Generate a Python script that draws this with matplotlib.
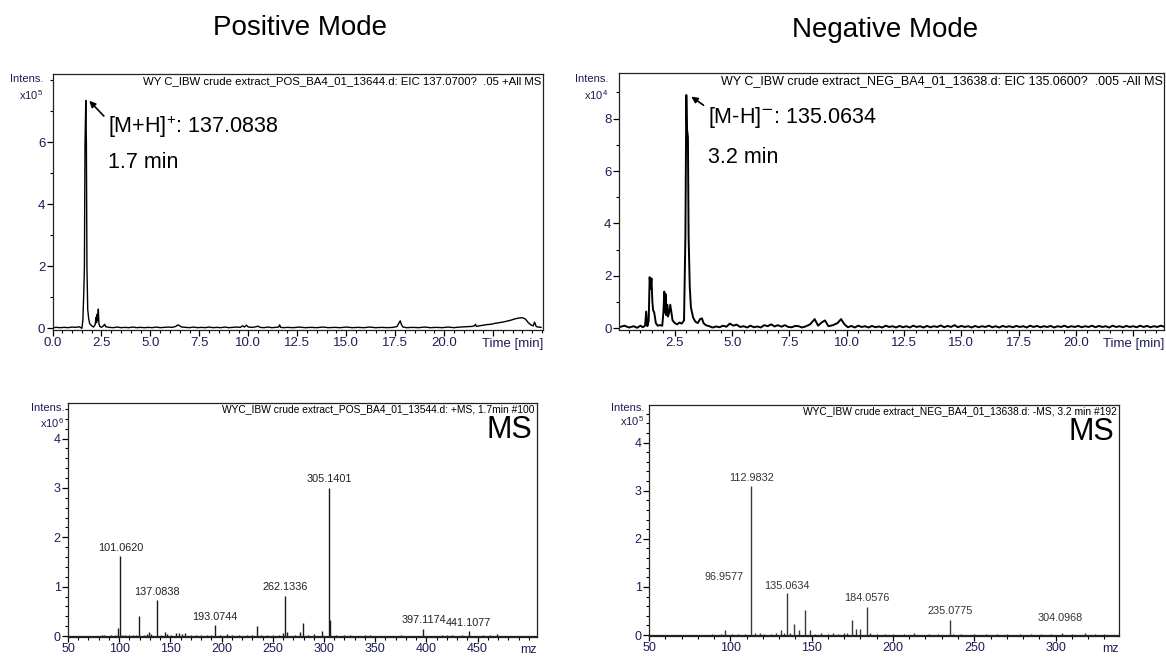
import matplotlib
matplotlib.use("Agg")
import matplotlib.pyplot as plt
from matplotlib.ticker import MultipleLocator, FixedLocator, FixedFormatter

plt.rcParams['font.family'] = ['Liberation Sans', 'DejaVu Sans']
plt.rcParams['mathtext.fontset'] = 'custom'
plt.rcParams['mathtext.rm'] = 'Liberation Sans'
plt.rcParams['mathtext.it'] = 'Liberation Sans'

# EIC, positive mode: (time [min], intensity x1e5)
pos_eic = [
    (0.0, 0.02), (0.2, 0.03), (0.4, 0.02), (0.6, 0.03), (0.8, 0.02), (1.0, 0.04),
    (1.2, 0.03), (1.35, 0.05), (1.45, 0.02), (1.5, 0.0), (1.55, 0.25), (1.6, 1.2),
    (1.63, 2.0), (1.66, 5.9), (1.7, 7.35), (1.73, 6.0), (1.76, 1.9), (1.8, 0.6),
    (1.85, 0.3), (1.9, 0.15), (2.0, 0.08), (2.1, 0.04), (2.18, 0.12), (2.22, 0.35),
    (2.25, 0.18), (2.28, 0.45), (2.31, 0.25), (2.34, 0.62), (2.37, 0.15), (2.42, 0.06),
    (2.5, 0.03), (2.6, 0.08), (2.66, 0.13), (2.72, 0.05), (2.9, 0.03), (3.1, 0.02),
    (3.3, 0.04), (3.5, 0.02), (3.7, 0.03), (3.9, 0.02), (4.1, 0.04), (4.3, 0.02),
    (4.5, 0.03), (4.7, 0.02), (4.9, 0.03), (5.1, 0.02), (5.3, 0.04), (5.5, 0.02),
    (5.7, 0.03), (5.9, 0.04), (6.1, 0.03), (6.3, 0.06), (6.4, 0.11), (6.5, 0.08),
    (6.6, 0.04), (6.8, 0.03), (7.0, 0.02), (7.2, 0.04), (7.4, 0.02), (7.6, 0.03),
    (7.8, 0.02), (8.0, 0.04), (8.2, 0.02), (8.4, 0.03), (8.6, 0.02), (8.8, 0.04),
    (9.0, 0.02), (9.2, 0.03), (9.4, 0.04), (9.6, 0.03), (9.7, 0.08), (9.8, 0.04),
    (9.9, 0.1), (10.0, 0.04), (10.2, 0.03), (10.4, 0.05), (10.5, 0.07), (10.6, 0.03),
    (10.8, 0.02), (11.0, 0.04), (11.2, 0.02), (11.4, 0.03), (11.55, 0.04), (11.6, 0.11),
    (11.65, 0.03), (11.8, 0.02), (12.0, 0.03), (12.3, 0.02), (12.6, 0.04), (12.9, 0.02),
    (13.2, 0.03), (13.5, 0.02), (13.8, 0.04), (14.1, 0.02), (14.4, 0.03), (14.7, 0.02),
    (15.0, 0.04), (15.3, 0.02), (15.6, 0.03), (15.9, 0.02), (16.2, 0.04), (16.5, 0.02),
    (16.8, 0.03), (17.1, 0.02), (17.4, 0.03), (17.6, 0.06), (17.7, 0.18), (17.76, 0.24),
    (17.82, 0.12), (17.9, 0.04), (18.1, 0.02), (18.4, 0.03), (18.7, 0.02), (19.0, 0.04),
    (19.3, 0.02), (19.6, 0.03), (19.9, 0.02), (20.2, 0.04), (20.5, 0.02), (20.8, 0.04),
    (21.1, 0.05), (21.4, 0.06), (21.55, 0.08), (21.6, 0.13), (21.65, 0.06), (21.8, 0.08),
    (22.0, 0.1), (22.2, 0.12), (22.4, 0.13), (22.6, 0.16), (22.8, 0.18), (23.0, 0.2),
    (23.2, 0.23), (23.4, 0.26), (23.6, 0.3), (23.8, 0.33), (24.0, 0.34), (24.15, 0.3),
    (24.3, 0.18), (24.45, 0.1), (24.55, 0.08), (24.62, 0.2), (24.7, 0.06), (24.8, 0.04),
    (24.95, 0.03),
]

# EIC, negative mode: (time [min], intensity x1e4)
neg_eic = [
    (0.1, 0.05), (0.3, 0.1), (0.5, 0.03), (0.7, 0.08), (0.85, 0.02), (1.0, 0.1),
    (1.1, 0.04), (1.2, 0.1), (1.25, 0.64), (1.3, 0.08), (1.36, 0.3), (1.4, 1.95),
    (1.44, 1.5), (1.48, 1.9), (1.52, 1.0), (1.55, 0.7), (1.6, 0.6), (1.67, 0.2),
    (1.75, 0.1), (1.85, 0.12), (1.95, 0.1), (2.0, 0.6), (2.04, 1.4), (2.07, 0.6),
    (2.1, 1.3), (2.13, 0.5), (2.17, 0.9), (2.2, 0.45), (2.25, 0.6), (2.3, 0.9),
    (2.35, 0.6), (2.4, 0.3), (2.5, 0.2), (2.6, 0.15), (2.7, 0.22), (2.8, 0.18),
    (2.9, 0.3), (2.96, 3.5), (3.0, 8.9), (3.03, 7.6), (3.07, 7.3), (3.1, 3.5),
    (3.15, 1.6), (3.2, 0.8), (3.3, 0.4), (3.4, 0.25), (3.5, 0.2), (3.6, 0.35),
    (3.68, 0.38), (3.75, 0.2), (3.85, 0.12), (4.0, 0.08), (4.15, 0.03), (4.3, 0.07),
    (4.45, 0.04), (4.6, 0.1), (4.75, 0.06), (4.9, 0.18), (5.05, 0.1), (5.2, 0.14),
    (5.35, 0.05), (5.5, 0.08), (5.65, 0.03), (5.8, 0.1), (5.95, 0.04), (6.1, 0.07),
    (6.25, 0.03), (6.4, 0.12), (6.55, 0.08), (6.7, 0.15), (6.85, 0.07), (7.0, 0.12),
    (7.15, 0.06), (7.3, 0.12), (7.45, 0.05), (7.6, 0.04), (7.75, 0.09), (7.9, 0.08),
    (8.05, 0.03), (8.2, 0.07), (8.4, 0.15), (8.6, 0.35), (8.75, 0.1), (8.9, 0.22),
    (9.05, 0.3), (9.2, 0.08), (9.4, 0.12), (9.6, 0.2), (9.75, 0.35), (9.9, 0.15),
    (10.05, 0.04), (10.2, 0.09), (10.35, 0.03), (10.5, 0.1), (10.65, 0.05), (10.8, 0.08),
    (10.95, 0.03), (11.1, 0.09), (11.25, 0.04), (11.4, 0.07), (11.55, 0.03), (11.7, 0.1),
    (11.85, 0.05), (12.0, 0.08), (12.15, 0.03), (12.3, 0.09), (12.45, 0.04), (12.6, 0.08),
    (12.75, 0.03), (12.9, 0.1), (13.05, 0.05), (13.2, 0.08), (13.35, 0.03), (13.5, 0.09),
    (13.65, 0.04), (13.8, 0.08), (13.95, 0.05), (14.1, 0.11), (14.25, 0.04), (14.4, 0.09),
    (14.55, 0.05), (14.7, 0.12), (14.85, 0.04), (15.0, 0.09), (15.15, 0.05), (15.3, 0.08),
    (15.45, 0.03), (15.6, 0.09), (15.75, 0.04), (15.9, 0.08), (16.05, 0.05), (16.2, 0.1),
    (16.35, 0.04), (16.5, 0.08), (16.65, 0.03), (16.8, 0.09), (16.95, 0.05), (17.1, 0.08),
    (17.25, 0.04), (17.4, 0.09), (17.55, 0.05), (17.7, 0.08), (17.85, 0.03), (18.0, 0.1),
    (18.15, 0.05), (18.3, 0.09), (18.45, 0.04), (18.6, 0.08), (18.75, 0.05), (18.9, 0.09),
    (19.05, 0.03), (19.2, 0.08), (19.35, 0.05), (19.5, 0.1), (19.65, 0.04), (19.8, 0.08),
    (19.95, 0.05), (20.1, 0.09), (20.25, 0.04), (20.4, 0.08), (20.55, 0.05), (20.7, 0.1),
    (20.85, 0.04), (21.0, 0.09), (21.15, 0.05), (21.3, 0.08), (21.45, 0.03), (21.6, 0.1),
    (21.75, 0.05), (21.9, 0.08), (22.05, 0.04), (22.2, 0.09), (22.35, 0.05), (22.5, 0.08),
    (22.65, 0.04), (22.8, 0.1), (22.95, 0.05), (23.1, 0.09), (23.25, 0.04), (23.4, 0.08),
    (23.55, 0.05), (23.7, 0.1), (23.85, 0.06),
]

# MS spectrum, positive mode (m/z, intensity x1e6)
pos_mz = [83.5, 85.0, 92.0, 96.0, 98.5, 101.06, 103.0, 106.0, 110.0, 113.0, 116.0,
          119.07, 124.0, 127.0, 129.0, 131.0, 137.08, 141.0, 145.0, 147.0, 151.0,
          155.0, 158.0, 161.0, 164.0, 170.0, 175.0, 180.0, 186.0, 190.0, 193.07,
          198.0, 205.0, 210.0, 217.0, 225.0, 230.0, 235.0, 238.0, 244.0, 250.0,
          256.0, 260.0, 262.13, 264.0, 272.0, 277.0, 279.0, 284.0, 290.0, 298.0,
          305.14, 306.14, 312.0, 320.0, 325.0, 340.0, 345.0, 375.0, 397.12, 415.0,
          420.0, 425.0, 435.0, 441.11, 455.0, 462.0, 469.0]
pos_int = [0.03, 0.03, 0.02, 0.03, 0.17, 1.62, 0.03, 0.02, 0.03, 0.02, 0.03,
           0.40, 0.03, 0.05, 0.08, 0.04, 0.72, 0.03, 0.08, 0.05, 0.03,
           0.06, 0.07, 0.05, 0.06, 0.02, 0.02, 0.03, 0.02, 0.03, 0.22,
           0.02, 0.04, 0.02, 0.02, 0.02, 0.03, 0.21, 0.02, 0.03, 0.02,
           0.02, 0.06, 0.82, 0.08, 0.03, 0.09, 0.27, 0.03, 0.05, 0.10,
           3.00, 0.32, 0.03, 0.03, 0.02, 0.02, 0.02, 0.02, 0.15, 0.03,
           0.03, 0.02, 0.03, 0.10, 0.02, 0.02, 0.04]
pos_labels = ['101.0620', '137.0838', '193.0744', '262.1336', '305.1401', '397.1174', '441.1077']
pos_label_mz = [101.06, 137.08, 193.07, 262.13, 305.14, 397.12, 441.11]

# MS spectrum, negative mode (m/z, intensity x1e5)
neg_mz = [89.0, 94.0, 97.0, 101.0, 105.0, 109.0, 112.98, 115.0, 118.0, 121.0, 125.0,
          128.0, 131.0, 133.0, 135.06, 137.0, 139.0, 142.0, 146.0, 149.0, 152.0, 156.0,
          160.0, 163.0, 166.0, 170.0, 172.0, 174.9, 177.0, 180.0, 184.06, 186.0, 190.0,
          195.0, 200.0, 207.0, 213.0, 222.0, 228.0, 235.08, 237.0, 242.0, 250.0, 257.0,
          264.0, 270.0, 278.0, 285.0, 291.0, 297.0, 304.1, 310.0, 318.0, 324.0, 330.0]
neg_int = [0.02, 0.02, 0.11, 0.03, 0.02, 0.03, 3.10, 0.04, 0.05, 0.03, 0.02,
           0.04, 0.11, 0.04, 0.88, 0.05, 0.22, 0.10, 0.51, 0.11, 0.03, 0.04,
           0.03, 0.04, 0.03, 0.04, 0.05, 0.32, 0.12, 0.12, 0.59, 0.04, 0.03,
           0.03, 0.03, 0.02, 0.05, 0.02, 0.03, 0.32, 0.03, 0.02, 0.03, 0.02,
           0.02, 0.03, 0.02, 0.03, 0.02, 0.03, 0.04, 0.03, 0.05, 0.02, 0.03]
neg_labels = ['112.9832', '96.9577', '135.0634', '184.0576', '235.0775', '304.0968']
neg_label_x = [112.98, 96.0, 135.06, 184.06, 235.08, 302.7]
neg_label_y = [3.16, 1.10, 0.92, 0.66, 0.40, 0.24]

TICK_COLOR = '#1c1c55'


def style_axes(ax, labelsize=9.5):
    for sp in ax.spines.values():
        sp.set_linewidth(0.9)
        sp.set_color('#222222')
    ax.tick_params(axis='both', which='major', direction='out', length=4,
                   width=0.9, labelsize=labelsize, labelcolor=TICK_COLOR, pad=1.2)
    ax.tick_params(axis='both', which='minor', direction='out', length=2.5, width=0.8)


def plot_eic(ax, data, xmax, xmin, ymax, ymin, yticks, title, title_size, lw, label_ticks):
    t = [p[0] for p in data]
    y = [p[1] for p in data]
    ax.plot(t, y, color='black', lw=lw)
    ax.set_xlim(xmin, xmax)
    ax.set_ylim(ymin, ymax)
    style_axes(ax)
    ax.xaxis.set_major_locator(FixedLocator(label_ticks + [22.5]))
    ax.xaxis.set_major_formatter(FixedFormatter(['%.1f' % v for v in label_ticks] + ['']))
    ax.xaxis.set_minor_locator(MultipleLocator(0.5))
    ax.yaxis.set_major_locator(FixedLocator(yticks))
    ax.yaxis.set_minor_locator(MultipleLocator(1))
    ax.text(1.0, -0.032, 'Time [min]', transform=ax.transAxes, ha='right', va='top',
            fontsize=9.5, color=TICK_COLOR)
    ax.text(0.997, 0.99, title, transform=ax.transAxes, ha='right', va='top',
            fontsize=title_size, color='black')


def plot_ms(ax, mz, inten, xmin, xmax, ymax, title, color, ticks):
    ax.vlines(mz, 0, inten, color=color, lw=1.0)
    ax.axhline(0, color='#222222', lw=0.9)
    ax.set_xlim(xmin, xmax)
    ax.set_ylim(-0.02, ymax)
    style_axes(ax, labelsize=9)
    ax.tick_params(axis='x', which='major', length=3.5, pad=0.8)
    ax.tick_params(axis='x', which='minor', length=2.2)
    ax.xaxis.set_major_locator(FixedLocator(ticks))
    ax.xaxis.set_minor_locator(MultipleLocator(10))
    ax.yaxis.set_major_locator(MultipleLocator(1))
    ax.yaxis.set_minor_locator(MultipleLocator(0.2))
    ax.text(1.0, -0.03, 'mz', transform=ax.transAxes, ha='right', va='top',
            fontsize=9, color=TICK_COLOR)
    ax.text(0.995, 0.995, title, transform=ax.transAxes, ha='right', va='top',
            fontsize=7.4, color='black')
    ax.text(0.99, 0.95, 'MS', transform=ax.transAxes, ha='right', va='top',
            fontsize=22, color='black', family=['Liberation Sans Narrow', 'Liberation Sans'])


def main():
    fig = plt.figure(figsize=(11.66, 6.57), dpi=100)

    fig.text(300 / 1166, 1 - 28 / 657, 'Positive Mode', ha='center', va='center', fontsize=20)
    fig.text(885 / 1166, 1 - 30 / 657, 'Negative Mode', ha='center', va='center', fontsize=20)

    # top left: positive EIC
    ax1 = fig.add_axes([52.5 / 1166, 1 - 330 / 657, 490.5 / 1166, 256 / 657])
    plot_eic(ax1, pos_eic, 25.05, 0.0, 8.2, -0.055, [0, 2, 4, 6],
             'WY C_IBW crude extract_POS_BA4_01_13644.d: EIC 137.0700?  .05 +All MS', 8.2,
             1.0, [0.0, 2.5, 5.0, 7.5, 10.0, 12.5, 15.0, 17.5, 20.0])
    ax1.annotate('', xy=(1.78, 7.4), xytext=(2.72, 6.78),
                 arrowprops=dict(arrowstyle='-|>', color='black', lw=1.2, mutation_scale=9))
    ax1.text(2.82, 6.5, r'[M+H]$^{+}$: 137.0838', fontsize=15.5, va='center')
    ax1.text(2.82, 5.35, '1.7 min', fontsize=15.5, va='center')

    # top right: negative EIC
    ax2 = fig.add_axes([618.7 / 1166, 1 - 330 / 657, 545.5 / 1166, 257 / 657])
    plot_eic(ax2, neg_eic, 23.85, 0.05, 9.74, -0.065, [0, 2, 4, 6, 8],
             'WY C_IBW crude extract_NEG_BA4_01_13638.d: EIC 135.0600?  .005 -All MS', 9.0,
             1.4, [2.5, 5.0, 7.5, 10.0, 12.5, 15.0, 17.5, 20.0])
    ax2.annotate('', xy=(3.12, 8.9), xytext=(3.85, 8.45),
                 arrowprops=dict(arrowstyle='-|>', color='black', lw=1.2, mutation_scale=9))
    ax2.text(3.95, 8.05, r'[M-H]$^{\mathsf{-}}$: 135.0634', fontsize=15.5, va='center')
    ax2.text(3.95, 6.5, '3.2 min', fontsize=15.5, va='center')

    # bottom left: positive MS
    ax3 = fig.add_axes([68 / 1166, 1 - 637 / 657, 469 / 1166, 234 / 657])
    plot_ms(ax3, pos_mz, pos_int, 50, 508, 4.72,
            'WYC_IBW crude extract_POS_BA4_01_13544.d: +MS, 1.7min #100', '#1a1a1a',
            [50, 100, 150, 200, 250, 300, 350, 400, 450])
    for lab, x in zip(pos_labels, pos_label_mz):
        h = pos_int[pos_mz.index(x)]
        ax3.annotate(lab, xy=(x, h), xytext=(0, 2.5), textcoords='offset points',
                     ha='center', va='bottom', fontsize=7.8, color='#202020')

    # bottom right: negative MS
    ax4 = fig.add_axes([649 / 1166, 1 - 636 / 657, 470 / 1166, 231 / 657])
    plot_ms(ax4, neg_mz, neg_int, 50, 339, 4.78,
            'WYC_IBW crude extract_NEG_BA4_01_13638.d: -MS, 3.2 min #192', '#3a3a3a',
            [50, 100, 150, 200, 250, 300])
    for lab, x, y in zip(neg_labels, neg_label_x, neg_label_y):
        ax4.text(x, y, lab, ha='center', va='bottom', fontsize=7.8, color='#333333')

    # intensity labels
    for x, y1, y2, exp in [(27, 79, 95, 5), (592, 79, 95, 4), (48, 408, 423, 6), (628, 408, 421, 5)]:
        fig.text(x / 1166, 1 - y1 / 657, 'Intens.', ha='center', va='center',
                 fontsize=8, color=TICK_COLOR)
        fig.text((x + 4) / 1166, 1 - y2 / 657, r'x10$^{%d}$' % exp, ha='center', va='center',
                 fontsize=8, color=TICK_COLOR)

    fig.savefig('out.png', dpi=100)


if __name__ == "__main__":
    main()
